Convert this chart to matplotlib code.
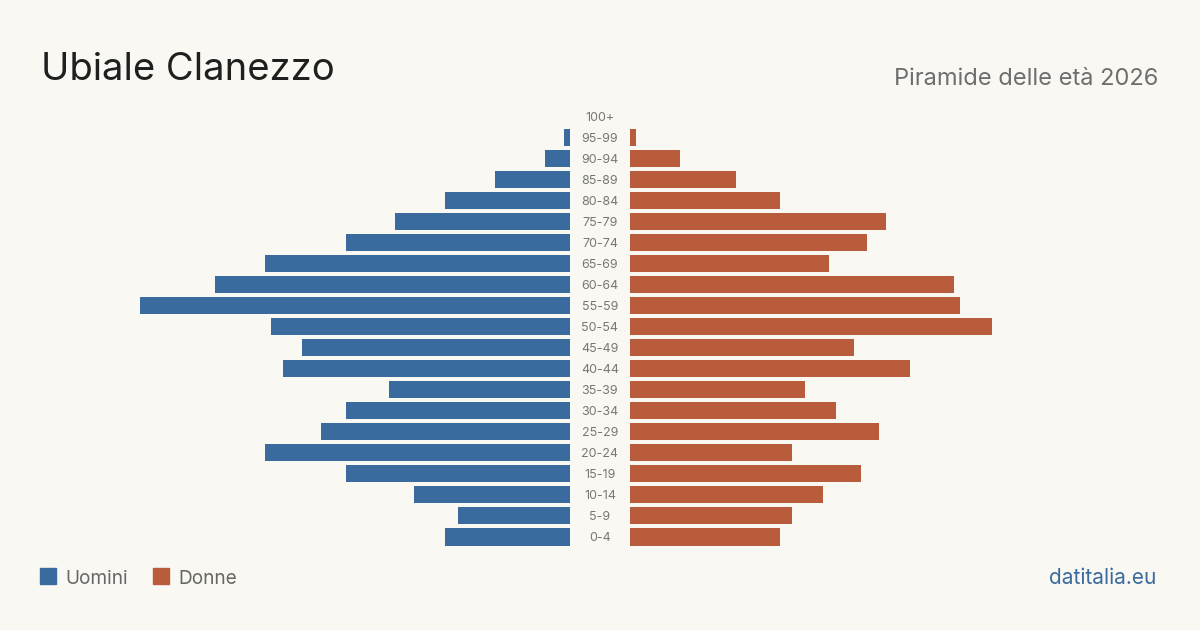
import matplotlib.pyplot as plt

ages = ["0-4", "5-9", "10-14", "15-19", "20-24", "25-29", "30-34", "35-39",
        "40-44", "45-49", "50-54", "55-59", "60-64", "65-69", "70-74",
        "75-79", "80-84", "85-89", "90-94", "95-99", "100+"]
uomini = [20, 18, 25, 36, 49, 40, 36, 29, 46, 43, 48, 69, 57, 49, 36, 28, 20, 12, 4, 1, 0]
donne = [24, 26, 31, 37, 26, 40, 33, 28, 45, 36, 58, 53, 52, 32, 38, 41, 24, 17, 8, 1, 0]

bg = "#f9f8f3"
blue = "#3a6b9e"
orange = "#b95c3c"
plt.rcParams['font.family'] = ['Inter', 'DejaVu Sans']

fig = plt.figure(figsize=(12, 6.3), dpi=100, facecolor=bg)

W = 1200
H = 630
bottom = (H - 547.5) / H
height = (547.5 - 106) / H
width = 436.3 / W

axl = fig.add_axes([133.7 / W, bottom, width, height])
axr = fig.add_axes([630 / W, bottom, width, height])

y = list(range(len(ages)))
axl.barh(y, uomini, height=0.81, color=blue)
axr.barh(y, donne, height=0.81, color=orange)
axl.set_xlim(70, 0)
axr.set_xlim(0, 70)
for ax in (axl, axr):
    ax.set_ylim(-0.5, len(ages) - 0.5)
    ax.set_facecolor(bg)
    ax.axis("off")

# age labels in the gap
for i, a in enumerate(ages):
    ypx = axl.transData.transform((0, i))[1] - 1
    fig.text(600 / W, ypx / H, a,
             ha="center", va="center", fontsize=9, color="#777777")

fig.text(41 / W, 1 - 80 / H, "Ubiale Clanezzo", fontsize=27.5, color="#1f1f1f",
         ha="left", va="baseline")
fig.text(1158 / W, 1 - 85 / H, "Piramide delle età 2026", fontsize=17,
         color="#6e6e6e", ha="right", va="baseline")

# legend
fig.patches.append(plt.Rectangle((40 / W, 1 - 584 / H), 16 / W, 16 / H,
                                 transform=fig.transFigure, color=blue))
fig.text(65 / W, 1 - 583.5 / H, "Uomini", fontsize=13.7, color="#666666",
         ha="left", va="baseline")
fig.patches.append(plt.Rectangle((153 / W, 1 - 584 / H), 16 / W, 16 / H,
                                 transform=fig.transFigure, color=orange))
fig.text(178 / W, 1 - 583.5 / H, "Donne", fontsize=13.7, color="#666666",
         ha="left", va="baseline")

fig.text(1156 / W, 1 - 583.5 / H, "datitalia.eu", fontsize=15, color=blue,
         ha="right", va="baseline")

fig.savefig("out.png", dpi=100, facecolor=bg)
